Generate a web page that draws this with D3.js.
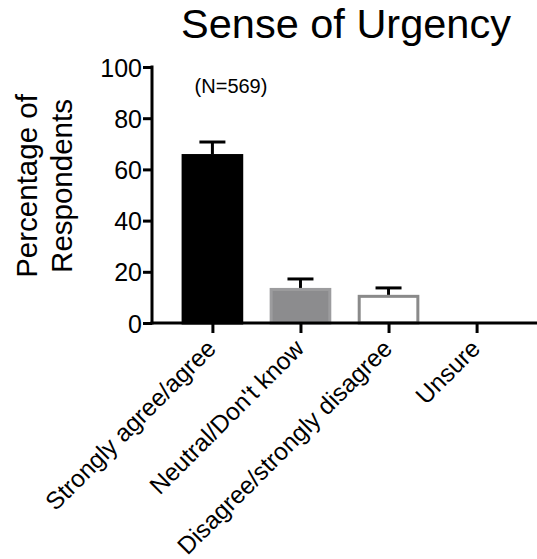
<!DOCTYPE html>
<html>
<head>
<meta charset="utf-8">
<script src="https://cdn.jsdelivr.net/npm/d3@7"></script>
<style>
  html, body { margin: 0; padding: 0; background: #fff; }
  text { font-family: "Liberation Sans", Arial, Helvetica, sans-serif; fill: #000; }
</style>
</head>
<body>
<svg id="chart" width="537" height="559"></svg>
<script>
const categories = ["Strongly agree/agree", "Neutral/Don't know", "Disagree/strongly disagree", "Unsure"];
const values = [66, 13.7, 11, 0];
const errors = [4.7, 3.5, 2.7, 0];
const fills = ["#000000", "#8c8c8e", "#ffffff", "#ffffff"];
const strokes = ["#000000", "#9c9c9e", "#8a8a8a", "#8a8a8a"];
const yTicks = [0, 20, 40, 60, 80, 100];
const title = "Sense of Urgency";
const yLabel = ["Percentage of", "Respondents"];
const note = "(N=569)";

const svg = d3.select("#chart");
const x = d3.scalePoint().domain(categories).range([152, 537]).padding(0.686);
const y = d3.scaleLinear().domain([0, 100]).range([323, 67]);
const barW = x.step() * 0.70;

// bars
svg.selectAll("rect.bar").data(categories).join("rect")
  .attr("class", "bar")
  .attr("x", d => x(d) - barW / 2 + 1.5)
  .attr("width", barW - 3)
  .attr("y", (d, i) => y(values[i]) + 1.5)
  .attr("height", (d, i) => Math.max(0, y(0) - y(values[i]) - 1.5))
  .attr("fill", (d, i) => fills[i])
  .attr("stroke", (d, i) => strokes[i])
  .attr("stroke-width", 3)
  .style("display", (d, i) => values[i] > 0 ? null : "none");

// error bars
const eb = svg.selectAll("g.err").data(categories.filter((d, i) => errors[i] > 0)).join("g").attr("class", "err");
eb.append("line")
  .attr("x1", d => x(d)).attr("x2", d => x(d))
  .attr("y1", d => y(values[categories.indexOf(d)]))
  .attr("y2", d => { const i = categories.indexOf(d); return y(values[i] + errors[i]); })
  .attr("stroke", "#000").attr("stroke-width", 3);
eb.append("line")
  .attr("x1", d => x(d) - 13).attr("x2", d => x(d) + 13)
  .attr("y1", d => { const i = categories.indexOf(d); return y(values[i] + errors[i]); })
  .attr("y2", d => { const i = categories.indexOf(d); return y(values[i] + errors[i]); })
  .attr("stroke", "#000").attr("stroke-width", 3);

// y axis
const yAxis = svg.append("g").attr("transform", "translate(152,0)")
  .call(d3.axisLeft(y).tickValues(yTicks).tickSize(9).tickPadding(1).tickFormat(d3.format("d")));
yAxis.select(".domain").attr("d", `M0,${y(100) - 1.5}V${y(0) + 1.5}`).attr("stroke", "#000").attr("stroke-width", 3);
yAxis.selectAll(".tick line").attr("stroke", "#000").attr("stroke-width", 3);
yAxis.selectAll(".tick text").attr("font-size", 25).attr("font-family", "Liberation Sans, Arial, sans-serif").attr("dy", "0.36em");

// x axis
const xAxis = svg.append("g").attr("transform", "translate(0,323)")
  .call(d3.axisBottom(x).tickSize(10).tickFormat(""));
xAxis.select(".domain").attr("d", "M150.5,0H537").attr("stroke", "#000").attr("stroke-width", 3);
xAxis.selectAll(".tick line").attr("stroke", "#000").attr("stroke-width", 3);

// x labels
svg.append("g").selectAll("text").data(categories).join("text")
  .attr("transform", d => `translate(${x(d) + 5},350) rotate(-45)`)
  .attr("text-anchor", "end")
  .attr("font-size", 24.5)
  .text(d => d);

// title
svg.append("text").attr("x", 346).attr("y", 38).attr("text-anchor", "middle")
  .attr("font-size", 41.5).text(title);

// y label
const yl = svg.append("text").attr("transform", "translate(37,186) rotate(-90)")
  .attr("text-anchor", "middle").attr("font-size", 29.5);
yl.selectAll("tspan").data(yLabel).join("tspan")
  .attr("x", 0).attr("dy", (d, i) => i === 0 ? 0 : 35).text(d => d);

// note
svg.append("text").attr("x", 231).attr("y", 93).attr("text-anchor", "middle")
  .attr("font-size", 20).text(note);
</script>
</body>
</html>
